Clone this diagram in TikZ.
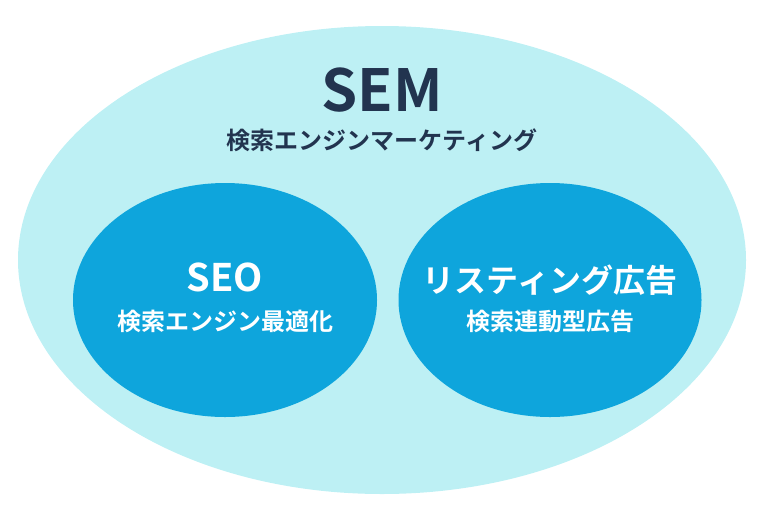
\documentclass[tikz,border=0pt]{standalone}
\usepackage{fontspec}
\setmainfont{Noto Sans CJK JP}[BoldFont={Noto Sans CJK JP Bold}]
\usetikzlibrary{shapes.geometric}

\definecolor{fondclair}{HTML}{BDF0F4}
\definecolor{bleu}{HTML}{0EA5DC}
\definecolor{marine}{HTML}{22344F}

\tikzset{
  bulle/.style={ellipse, inner sep=0pt, draw=none},
  titre/.style={font=\bfseries\fontsize{#1}{#1}\selectfont, inner sep=0pt, anchor=center},
}

\begin{document}
\begin{tikzpicture}[x=1pt, y=-1pt]

% Cadre
\useasboundingbox (0,0) rectangle (760,520);

% Grande ellipse (SEM)
\node[bulle, fill=fondclair, minimum width=728pt, minimum height=468pt] (sem) at (382,260) {};

% Petites ellipses
\node[bulle, fill=bleu, minimum width=304pt, minimum height=234pt] (seo) at (225,300) {};
\node[bulle, fill=bleu, minimum width=303pt, minimum height=234pt] (ads) at (550,300) {};

% Textes
\node[titre=58, text=marine] (semtitre) at (382,90) {SEM};
\node[titre=24, text=marine] (semsous) at (382,140) {検索エンジンマーケティング};

\node[titre=38, text=white] (seotitre) at (225,277) {SEO};
\node[titre=24, text=white] (seosous) at (225,321) {検索エンジン最適化};

\node[titre=32, text=white] (adstitre) at (550,280) {リスティング広告};
\node[titre=24, text=white] (adssous) at (550,321) {検索連動型広告};
\end{tikzpicture}
\end{document}
